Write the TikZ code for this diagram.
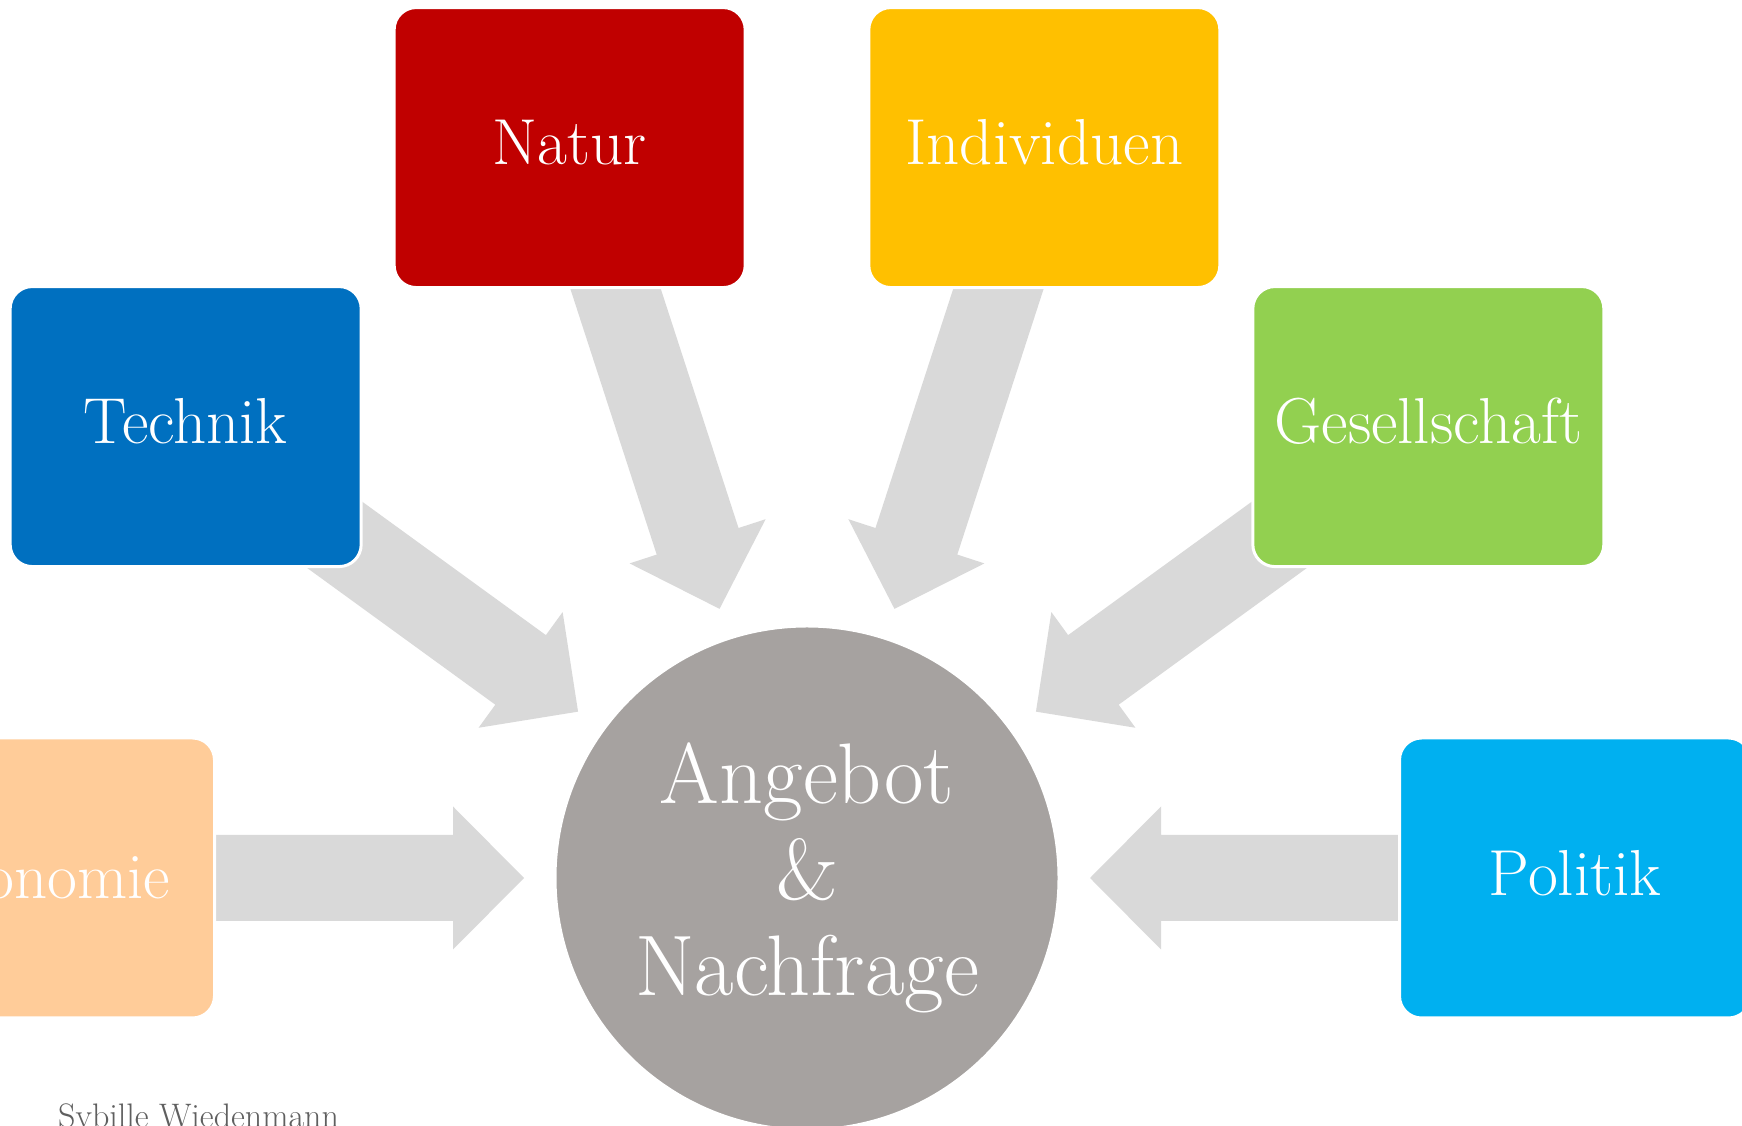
\documentclass[tikz,border=0pt]{standalone}
\usepackage{fontspec}
\usetikzlibrary{calc}
\pgfdeclarelayer{back}
\pgfsetlayers{back,main}
\definecolor{naturred}{HTML}{C00000}
\definecolor{indivyellow}{HTML}{FFC000}
\definecolor{technikblue}{HTML}{0070C0}
\definecolor{gesgreen}{HTML}{92D050}
\definecolor{oekopeach}{HTML}{FFCC99}
\definecolor{politikcyan}{HTML}{00B0F0}
\definecolor{circgray}{HTML}{A6A2A0}
\definecolor{arrowgray}{HTML}{D9D9D9}
\definecolor{footgray}{HTML}{5F5F5F}
\tikzset{
  box/.style={rounded corners=22pt, draw=white, line width=3pt,
    minimum width=351pt, minimum height=280pt, inner sep=0pt,
    text depth=11pt,
    text=white, font=\fontsize{65}{76}\selectfont},
  arrowfill/.style={fill=arrowgray, draw=none},
}
% #1 = source node, #2 = angle from the circle centre towards the source
\newcommand\feedarrow[2]{%
  \fill[arrowfill]
    ($(ab)+(#2:283pt)$)
    -- ($(ab)+(#2:354pt)+(#2+90:71.5pt)$)
    -- ($(ab)+(#2:354pt)+(#2+90:43pt)$)
    -- ($(#1.center)+(#2+90:43pt)$)
    -- ($(#1.center)+(#2-90:43pt)$)
    -- ($(ab)+(#2:354pt)+(#2-90:43pt)$)
    -- ($(ab)+(#2:354pt)+(#2-90:71.5pt)$)
    -- cycle;}
\begin{document}
\begin{tikzpicture}[x=1pt,y=1pt]
  \useasboundingbox (0,0) rectangle (1742,1126);
  \clip (0,0) rectangle (1742,1126);

  \node[circle, fill=circgray, draw=white, line width=3pt, minimum size=504pt,
        inner sep=0pt, text=white, align=center,
        font=\fontsize{86}{96}\selectfont] (ab) at (807,248)
        {Angebot\\\&\\Nachfrage};

  \node[box, fill=naturred]    (natur) at ($(ab)+(108:768pt)$) {Natur};
  \node[box, fill=indivyellow] (indiv) at ($(ab)+(72:768pt)$)  {Individuen};
  \node[box, fill=technikblue] (technik) at ($(ab)+(144:768pt)$) {Technik};
  \node[box, fill=gesgreen]    (ges) at ($(ab)+(36:768pt)$)    {Gesellschaft};
  \node[box, fill=oekopeach]   (oeko) at ($(ab)+(180:768pt)$)  {Ökonomie};
  \node[box, fill=politikcyan] (politik) at ($(ab)+(0:768pt)$) {Politik};

  \begin{pgfonlayer}{back}
    \fill[white] (0,0) rectangle (1742,1126);
    \feedarrow{natur}{108}
    \feedarrow{indiv}{72}
    \feedarrow{technik}{144}
    \feedarrow{ges}{36}
    \feedarrow{oeko}{180}
    \feedarrow{politik}{0}
  \end{pgfonlayer}

  \node[anchor=base west, inner sep=0pt, text=footgray,
        font=\fontsize{34}{40}\selectfont] (author) at (58,-2) {Sybille Wiedenmann};
\end{tikzpicture}
\end{document}
